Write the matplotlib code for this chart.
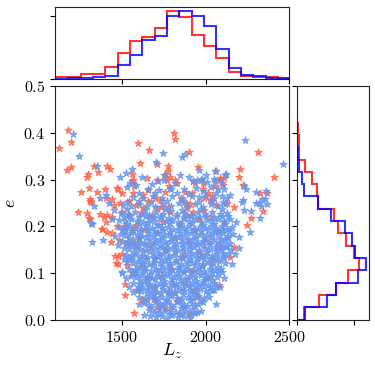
import numpy as np
import matplotlib.pyplot as plt

plt.rcParams['mathtext.fontset'] = 'cm'

# marginal histograms (density)
lz_edges = [1106, 1180, 1253, 1327, 1401, 1475, 1548, 1622, 1696, 1769,
            1843, 1917, 1990, 2064, 2138, 2212, 2285, 2359, 2433, 2507]
lz_red = [0.07, 0.07, 0.165, 0.165, 0.395, 0.82, 1.205, 1.315, 1.61, 2.14,
          1.97, 1.38, 1.035, 0.675, 0.24, 0.115, 0.085, 0.085, 0.02]
lz_blue = [0.015, 0.045, 0.045, 0.07, 0.10, 0.445, 0.755, 1.235, 1.36, 2.0,
           2.155, 2.0, 1.69, 0.955, 0.34, 0.145, 0.115, 0.055, 0.055]
lz_red = [v * 1e-3 for v in lz_red]
lz_blue = [v * 1e-3 for v in lz_blue]

e_edges = [0.001, 0.0273, 0.0536, 0.0799, 0.1062, 0.1325, 0.1588, 0.1851, 0.2114,
           0.2377, 0.264, 0.2903, 0.3166, 0.3429, 0.3692, 0.3955, 0.4218]
e_red = [0.595, 1.89, 3.37, 4.50, 5.44, 5.0, 4.26, 3.61, 3.22, 1.86, 1.71,
         1.31, 0.71, 0.115, 0.115, 0.06]
e_blue = [0.71, 2.64, 3.37, 5.39, 6.04, 5.09, 4.80, 4.20, 2.93, 1.86, 0.595,
          0.42, 0.18, 0.06, 0.0, 0.0]

x_ticks = [1500, 2000, 2500]
y_ticks = [0.0, 0.1, 0.2, 0.3, 0.4, 0.5]

# scatter points (Lz, e)
blue_stars = [
    (1705,0.006),(1742,0.008),(1768,0.004),(1801,0.010),(1836,0.006),(1872,0.009),(1905,0.005),
    (1662,0.021),(1690,0.018),(1724,0.024),(1755,0.019),(1788,0.022),(1820,0.017),(1851,0.025),(1884,0.020),(1918,0.023),(1947,0.018),
    (1634,0.036),(1664,0.033),(1697,0.039),(1729,0.034),(1760,0.037),(1793,0.032),(1826,0.038),(1858,0.035),(1890,0.031),(1921,0.037),(1953,0.034),(1984,0.039),
    (1603,0.049),(1636,0.046),(1668,0.052),(1700,0.047),(1731,0.050),(1763,0.045),(1796,0.051),(1829,0.048),(1861,0.044),(1893,0.050),(1925,0.047),(1957,0.052),(1990,0.046),(2018,0.050),
    (1583,0.064),(1615,0.061),(1647,0.066),(1679,0.062),(1712,0.060),(1744,0.066),(1777,0.063),(1809,0.059),(1841,0.065),(1873,0.061),(1905,0.064),(1937,0.060),(1969,0.066),(2001,0.062),(2036,0.065),
    (1567,0.079),(1599,0.076),(1631,0.081),(1663,0.077),(1695,0.075),(1728,0.080),(1760,0.077),(1792,0.082),(1824,0.076),(1857,0.079),(1889,0.074),(1921,0.080),(1953,0.077),(1985,0.081),(2017,0.075),(2052,0.079),
    (1552,0.094),(1584,0.091),(1616,0.096),(1648,0.092),(1681,0.090),(1713,0.095),(1745,0.092),(1777,0.097),(1809,0.091),(1842,0.094),(1874,0.089),(1906,0.095),(1938,0.092),(1970,0.096),(2002,0.090),(2035,0.094),(2070,0.091),
    (1543,0.109),(1575,0.106),(1607,0.111),(1639,0.107),(1672,0.105),(1704,0.110),(1736,0.107),(1768,0.112),(1800,0.106),(1833,0.109),(1865,0.104),(1897,0.110),(1929,0.107),(1961,0.111),(1993,0.105),(2026,0.109),(2058,0.106),(2092,0.110),
    (1532,0.124),(1564,0.121),(1596,0.126),(1628,0.122),(1661,0.120),(1693,0.125),(1725,0.122),(1757,0.127),(1789,0.121),(1822,0.124),(1854,0.119),(1886,0.125),(1918,0.122),(1950,0.126),(1982,0.120),(2015,0.124),(2047,0.121),(2080,0.126),(2114,0.122),
    (1522,0.139),(1554,0.136),(1586,0.141),(1618,0.137),(1651,0.135),(1683,0.140),(1715,0.137),(1747,0.142),(1779,0.136),(1812,0.139),(1844,0.134),(1876,0.140),(1908,0.137),(1940,0.141),(1972,0.135),(2005,0.139),(2037,0.136),(2069,0.141),(2101,0.137),(2135,0.140),
    (1512,0.154),(1544,0.151),(1576,0.156),(1608,0.152),(1641,0.150),(1673,0.155),(1705,0.152),(1737,0.157),(1769,0.151),(1802,0.154),(1834,0.149),(1866,0.155),(1898,0.152),(1930,0.156),(1962,0.150),(1995,0.154),(2027,0.151),(2059,0.156),(2091,0.152),(2123,0.155),(2150,0.150),
    (1503,0.169),(1535,0.166),(1567,0.171),(1599,0.167),(1632,0.165),(1664,0.170),(1696,0.167),(1728,0.172),(1760,0.166),(1793,0.169),(1825,0.164),(1857,0.170),(1889,0.167),(1921,0.171),(1953,0.165),(1986,0.169),(2018,0.166),(2050,0.171),(2082,0.167),(2114,0.170),(2146,0.165),
    (1492,0.184),(1524,0.181),(1556,0.186),(1588,0.182),(1621,0.180),(1653,0.185),(1685,0.182),(1717,0.187),(1749,0.181),(1782,0.184),(1814,0.179),(1846,0.185),(1878,0.182),(1910,0.186),(1942,0.180),(1975,0.184),(2007,0.181),(2039,0.186),(2071,0.182),(2103,0.185),(2136,0.180),(2162,0.184),
    (1484,0.199),(1516,0.196),(1548,0.201),(1580,0.197),(1613,0.195),(1645,0.200),(1677,0.197),(1709,0.202),(1741,0.196),(1774,0.199),(1806,0.194),(1838,0.200),(1870,0.197),(1902,0.201),(1934,0.195),(1967,0.199),(1999,0.196),(2031,0.201),(2063,0.197),(2095,0.200),(2128,0.195),(2158,0.199),
    (1483,0.214),(1520,0.211),(1555,0.216),(1590,0.212),(1626,0.210),(1660,0.215),(1694,0.212),(1729,0.217),(1763,0.211),(1798,0.214),(1833,0.209),(1868,0.215),(1902,0.212),(1937,0.216),(1971,0.210),(2006,0.214),(2040,0.211),(2075,0.216),(2110,0.212),(2145,0.215),
    (1495,0.229),(1538,0.226),(1577,0.231),(1619,0.227),(1660,0.225),(1703,0.230),(1745,0.227),(1788,0.232),(1830,0.226),(1872,0.229),(1915,0.224),(1957,0.230),(1999,0.227),(2041,0.231),(2083,0.226),(2125,0.229),
    (1505,0.246),(1556,0.243),(1602,0.248),(1650,0.244),(1697,0.242),(1746,0.247),(1793,0.243),(1842,0.249),(1890,0.244),(1938,0.247),(1985,0.242),(2030,0.248),(2076,0.244),(2118,0.247),
    (1568,0.263),(1625,0.260),(1684,0.265),(1742,0.261),(1800,0.264),(1858,0.259),(1916,0.265),(1962,0.262),(2005,0.266),(2050,0.260),(2095,0.264),(2130,0.261),
    (1655,0.280),(1722,0.277),(1790,0.283),(1870,0.279),(1940,0.282),(1985,0.276),(2030,0.284),(2072,0.279),(2112,0.281),
    (1718,0.296),(1815,0.293),(1925,0.297),(1972,0.300),(2010,0.294),(2055,0.298),(2095,0.292),
    (1650,0.057),(1690,0.055),(1735,0.058),(1782,0.056),(1818,0.058),(1866,0.055),(1910,0.057),(1950,0.056),
    (1610,0.086),(1655,0.085),(1700,0.087),(1750,0.084),(1800,0.087),(1848,0.085),(1895,0.087),(1942,0.084),(1990,0.086),(2040,0.085),
    (1590,0.116),(1640,0.114),(1688,0.117),(1740,0.115),(1785,0.117),(1838,0.114),(1880,0.116),(1935,0.117),(1980,0.115),(2030,0.117),(2075,0.114),
    (1570,0.146),(1625,0.145),(1670,0.147),(1720,0.144),(1765,0.147),(1818,0.145),(1862,0.147),(1915,0.144),(1958,0.146),(2010,0.145),(2060,0.147),(2105,0.144),
    (1545,0.176),(1600,0.175),(1648,0.177),(1700,0.174),(1742,0.177),(1795,0.175),(1840,0.177),(1895,0.174),(1937,0.176),(1990,0.175),(2035,0.177),(2090,0.174),(2125,0.176),
    (1530,0.206),(1600,0.205),(1655,0.207),(1720,0.204),(1785,0.207),(1850,0.205),(1920,0.207),(1985,0.204),(2050,0.206),(2115,0.205),
    (1675,0.028),(1740,0.029),(1805,0.027),(1870,0.028),(1935,0.029),(1620,0.071),(1700,0.070),(1785,0.071),(1865,0.069),(1945,0.071),(2025,0.070),
    (1585,0.101),(1665,0.099),(1750,0.101),(1830,0.100),(1915,0.101),(2000,0.099),(2075,0.100),(1560,0.131),(1645,0.130),(1735,0.131),(1820,0.129),
    (1905,0.131),(1990,0.130),(2070,0.131),(1555,0.161),(1640,0.160),(1730,0.161),(1815,0.159),(1900,0.161),(1985,0.160),(2070,0.161),(2130,0.159),
    (1520,0.191),(1610,0.190),(1700,0.191),(1790,0.189),(1880,0.191),(1970,0.190),(2055,0.191),(2140,0.190),(1515,0.221),(1600,0.220),(1690,0.221),
    (1780,0.219),(1870,0.221),(1960,0.220),(2050,0.221),(2135,0.222),(1530,0.237),(1640,0.236),(1760,0.238),(1860,0.236),(1970,0.238),(2100,0.237),
    (1720,0.014),(1785,0.013),(1850,0.015),(1910,0.013),(1650,0.042),(1712,0.043),(1778,0.041),(1843,0.043),(1907,0.042),(1970,0.043),
    (1600,0.0715),(1660,0.072),(1742,0.073),(1825,0.072),(1905,0.073),(1985,0.072),(2060,0.072),
    (1565,0.103),(1625,0.102),(1708,0.103),(1790,0.102),(1872,0.103),(1955,0.102),(2040,0.103),(2100,0.102),
    (1540,0.133),(1605,0.132),(1690,0.133),(1778,0.132),(1862,0.133),(1948,0.132),(2030,0.133),(2110,0.132),
    (1525,0.162),(1598,0.163),(1685,0.162),(1772,0.163),(1858,0.162),(1942,0.163),(2028,0.162),(2100,0.163),
    (1500,0.192),(1565,0.193),(1655,0.192),(1745,0.193),(1835,0.192),(1925,0.193),(2012,0.192),(2098,0.193),
    (1550,0.222),(1645,0.223),(1735,0.222),(1825,0.223),(1915,0.222),(2005,0.223),(2095,0.222),
    (1530,0.253),(1600,0.254),(1675,0.252),(1770,0.254),(1870,0.253),(1960,0.252),(2040,0.254),(2105,0.253),
    (1600,0.272),(1700,0.271),(1830,0.272),(1900,0.270),(2060,0.271),
    (1206,0.397),(1242,0.350),(1317,0.208),(1321,0.167),(1335,0.244),(1353,0.330),(1369,0.260),(1389,0.172),(1405,0.267),
    (1489,0.306),(1525,0.315),(1559,0.322),(1549,0.292),(1704,0.338),(1748,0.357),(1858,0.348),(1878,0.355),(1848,0.310),
    (1963,0.321),(2119,0.311),(2237,0.385),(2231,0.286),(2460,0.333),(2361,0.276),(2356,0.258),(2368,0.248),(2332,0.244),
    (2274,0.233),(2322,0.218),(2267,0.189),(2221,0.256),(2227,0.235),(2197,0.178),(2201,0.153),(2147,0.267),(1632,0.011),
    (1938,0.016),(1567,0.060),(1503,0.103),(1323,0.205),(1499,0.100),(2017,0.057),(1440,0.215),(1420,0.250),
    (1455,0.235),(1620,0.305),(1680,0.290),(1760,0.310),(1900,0.305),(2000,0.310),(2050,0.302),(2180,0.210),(2175,0.140),
    (2160,0.120),(2240,0.280),(2300,0.250),(1460,0.180),(1478,0.160),(1510,0.130),(1525,0.090),(1545,0.070),(1600,0.035),
    (1665,0.008),(1975,0.020),(2060,0.035),(2085,0.070),(2110,0.090),(2050,0.065),(1752,0.299),(1792,0.279),(1951,0.299),
    (1978,0.301),(2117,0.309),(2063,0.318),(2303,0.274),(2337,0.258),(2316,0.249),(2217,0.252),(1530,0.285),(1585,0.288),
]

red_stars = [
    (1124,0.367),(1180,0.407),(1198,0.380),(1174,0.320),(1198,0.328),(1238,0.231),(1257,0.273),(1297,0.311),
    (1293,0.306),(1305,0.283),(1311,0.258),(1307,0.254),(1305,0.219),(1333,0.330),(1359,0.316),(1349,0.274),
    (1369,0.226),(1379,0.194),(1393,0.221),(1397,0.281),(1403,0.261),(1409,0.329),(1427,0.322),(1439,0.259),
    (1473,0.283),(1479,0.279),(1503,0.272),(1559,0.313),(1568,0.299),(1568,0.272),(1573,0.286),(1598,0.379),
    (1609,0.335),(1662,0.363),(1708,0.333),(1712,0.300),(1752,0.309),(1774,0.329),(1776,0.318),(1788,0.306),
    (1782,0.286),(1808,0.399),(1814,0.387),(1903,0.359),(1957,0.327),(1818,0.300),(1828,0.293),(1878,0.274),
    (1924,0.297),(1987,0.293),(2057,0.319),(2057,0.286),(2083,0.299),(2107,0.304),(2103,0.288),(2197,0.306),
    (2203,0.323),(2223,0.288),(2310,0.359),(2406,0.306),(2322,0.271),(2367,0.271),(2343,0.233),(2271,0.217),
    (2247,0.203),(2167,0.242),(2167,0.157),(2143,0.135),(2077,0.075),(1574,0.016),(1519,0.053),(1519,0.078),
    (1459,0.137),(1475,0.119),(1842,0.013),(1898,0.013),(1293,0.229),(1309,0.215),(1313,0.253),(1413,0.224),
    (1443,0.221),(1403,0.210),(1383,0.194),(1413,0.189),(1443,0.185),(1433,0.167),(1483,0.171),(1463,0.121),
    (1477,0.137),(1503,0.142),(1533,0.118),(1573,0.164),(1603,0.178),(1583,0.203),(1613,0.228),(1732,0.241),
    (1692,0.068),(1622,0.043),(1712,0.028),(1628,0.267),(1708,0.239),(1728,0.256),(1758,0.274),(1778,0.242),
    (1888,0.239),(1908,0.248),(1927,0.231),(1918,0.271),(1938,0.292),(1987,0.279),(2017,0.271),(2027,0.256),
    (2087,0.303),(1559,0.296),(1648,0.303),(1658,0.278),(1768,0.299),
    (1545,0.225),(1560,0.190),(1590,0.155),(1620,0.120),(1640,0.195),(1660,0.160),(1680,0.225),(1700,0.130),
    (1710,0.185),(1735,0.095),(1745,0.210),(1760,0.150),(1775,0.060),(1790,0.230),(1800,0.110),(1815,0.175),
    (1830,0.040),(1845,0.205),(1860,0.135),(1875,0.080),(1890,0.225),(1905,0.165),(1920,0.105),(1935,0.190),
    (1950,0.050),(1960,0.215),(1975,0.140),(1990,0.235),(2005,0.170),(2015,0.090),(2030,0.220),(2045,0.130),
    (2060,0.245),(2075,0.190),(2090,0.155),(2110,0.210),(2125,0.250),(1650,0.090),(1690,0.045),(1760,0.025),
    (1805,0.075),(1870,0.030),(1930,0.065),(1980,0.115),(1560,0.100),(1595,0.065),(1625,0.240),(1655,0.255),
    (1700,0.260),(1850,0.260),(1880,0.250),(1990,0.260),(2040,0.265),(1520,0.200),(1500,0.230),(1530,0.165),
    (1470,0.200),(1455,0.245),(1490,0.250),(1545,0.255),(1585,0.245),
]

blue_lz, blue_e = np.array(blue_stars).T
red_lz, red_e = np.array(red_stars).T

fig = plt.figure(figsize=(3.75, 3.7), dpi=100)
ax = fig.add_axes([0.1467, 0.1351, 0.6248, 0.6324])
ax_top = fig.add_axes([0.1467, 0.7857, 0.6248, 0.1946], sharex=ax)
ax_right = fig.add_axes([0.7928, 0.1351, 0.192, 0.6324], sharey=ax)

ax.scatter(red_lz, red_e, marker='*', s=30, color='tomato', alpha=0.8, linewidths=0.7)
ax.scatter(blue_lz, blue_e, marker='*', s=30, color='cornflowerblue', alpha=0.8, linewidths=0.7)
ax.set_xlim(1100, 2500)
ax.set_ylim(0, 0.5)
ax.set_xticks(x_ticks)
ax.set_yticks(y_ticks)
ax.set_xticklabels(['$%d$' % t for t in x_ticks])
ax.set_yticklabels(['$%.1f$' % t for t in y_ticks])
ax.tick_params(labelsize=11.5)
ax.set_xlabel('$L_z$', fontsize=13)
ax.set_ylabel('$e$', fontsize=13)
ax.xaxis.set_label_coords(0.5, -0.095)
ax.yaxis.set_label_coords(-0.152, 0.5)

# top marginal
ax_top.stairs(lz_red, lz_edges, color='red', alpha=0.8, lw=1.5)
ax_top.stairs(lz_blue, lz_edges, color='blue', alpha=0.8, lw=1.5)
ax_top.set_yticks([0, 0.002])
ax_top.tick_params(labelbottom=False, labelleft=False)

# right marginal
ax_right.stairs(e_red, e_edges, orientation='horizontal', color='red', alpha=0.8, lw=1.5)
ax_right.stairs(e_blue, e_edges, orientation='horizontal', color='blue', alpha=0.8, lw=1.5)
ax_right.set_xticks([0, 5])
ax_right.tick_params(labelbottom=False, labelleft=False)

for a in (ax, ax_top, ax_right):
    for sp in a.spines.values():
        sp.set_color('#222222')

fig.savefig('out.png', dpi=100)
